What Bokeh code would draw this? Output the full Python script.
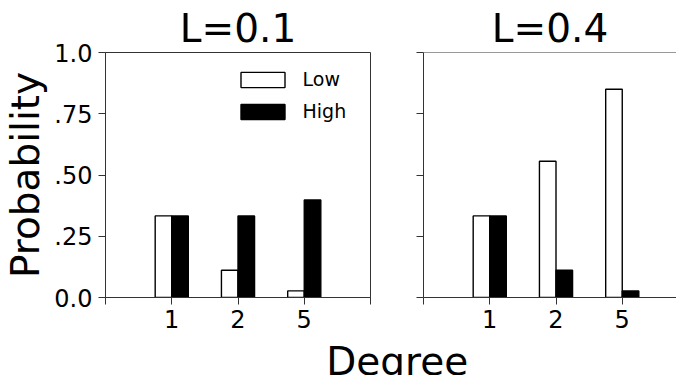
import numpy as np
from bokeh.plotting import figure
from bokeh.models import Range1d, FixedTicker, Legend, LegendItem, Label, Span
from bokeh.layouts import row, column
from bokeh.embed import file_html
from bokeh.resources import INLINE

# ---- data ----
degrees = ["1", "2", "5"]
low_l01 = [0.333, 0.111, 0.027]
high_l01 = [0.333, 0.333, 0.398]
low_l04 = [0.333, 0.556, 0.850]
high_l04 = [0.333, 0.111, 0.027]
y_ticks = [0.0, 0.25, 0.5, 0.75, 1.0]
y_tick_labels = ["0.0", ".25", ".50", ".75", "1.0"]
panel_titles = ["L=0.1", "L=0.4"]
series_names = ["Low", "High"]
x_title = "Degree"
y_title = "Probability"

FONT = "DejaVu Sans"
AXIS_COLOR = "#333333"
BIG = "39px"
TICK = "24px"
BAR_W = 0.25

idx = np.arange(1, len(degrees) + 1)
x_ticks = list(range(0, len(degrees) + 2))
x_overrides = {t: "" for t in x_ticks}
for i, d in zip(idx, degrees):
    x_overrides[int(i)] = d

TOP, FRAME_H, H1 = 52, 245, 338
P1_W, P1_LEFT, P1_RIGHT = 396, 105, 26
P2_W, P2_LEFT, P2_RIGHT = 280, 27, 0
PX_PER_UNIT = (P1_W - P1_LEFT - P1_RIGHT) / (len(degrees) + 1)


def make_panel(width, bl, br, x_end, low, high, title, show_ylabels, outline):
    p = figure(width=width, height=H1, x_range=Range1d(0, x_end), y_range=Range1d(0, 1.0),
               toolbar_location=None, output_backend="svg", title=title,
               min_border_left=bl, min_border_right=br, min_border_top=TOP,
               min_border_bottom=H1 - TOP - FRAME_H)
    p.title.align = "center"
    p.title.text_font = FONT
    p.title.text_font_size = BIG
    p.title.text_font_style = "normal"
    p.title.text_color = "black"
    p.title.standoff = 3
    p.grid.visible = False
    p.background_fill_color = "white"
    p.border_fill_color = "white"
    p.outline_line_color = AXIS_COLOR if outline else None
    p.outline_line_width = 1
    for ax in (p.xaxis[0], p.yaxis[0]):
        ax.axis_line_color = AXIS_COLOR
        ax.axis_line_width = 1
        ax.major_tick_line_color = AXIS_COLOR
        ax.major_tick_line_width = 1
        ax.major_tick_out = 7
        ax.major_tick_in = 0
        ax.minor_tick_line_color = None
        ax.major_label_text_font = FONT
        ax.major_label_text_font_size = TICK
        ax.major_label_text_color = "black"
    p.xaxis.ticker = FixedTicker(ticks=x_ticks)
    p.xaxis.major_label_overrides = x_overrides
    p.xaxis.major_label_standoff = 5
    p.yaxis.ticker = FixedTicker(ticks=y_ticks)
    if show_ylabels:
        p.yaxis.major_label_overrides = {t: s for t, s in zip(y_ticks, y_tick_labels)}
        p.yaxis.axis_label = y_title
        p.yaxis.axis_label_text_font = FONT
        p.yaxis.axis_label_text_font_size = BIG
        p.yaxis.axis_label_text_font_style = "normal"
        p.yaxis.axis_label_text_color = "black"
        p.yaxis.axis_label_standoff = 3
    else:
        p.yaxis.major_label_overrides = {t: "" for t in y_ticks}
    p.yaxis.major_label_standoff = 6

    r_low = p.vbar(x=idx - BAR_W / 2, width=BAR_W, top=low, bottom=0,
                   fill_color="white", line_color="black", line_width=1.4)
    r_high = p.vbar(x=idx + BAR_W / 2, width=BAR_W, top=high, bottom=0,
                    fill_color="black", line_color="black", line_width=1.4)
    if not outline:
        p.add_layout(Span(location=1.0, dimension="width", line_color=AXIS_COLOR, line_width=1))
    return p, r_low, r_high


p1, l1, h1 = make_panel(P1_W, P1_LEFT, P1_RIGHT, len(degrees) + 1, low_l01, high_l01,
                        panel_titles[0], True, True)
x_end2 = (P2_W - P2_LEFT - P2_RIGHT) / PX_PER_UNIT
p2, l2, h2 = make_panel(P2_W, P2_LEFT, P2_RIGHT, x_end2, low_l04, high_l04,
                        panel_titles[1], False, False)

legend = Legend(items=[LegendItem(label=series_names[0], renderers=[l1]),
                       LegendItem(label=series_names[1], renderers=[h1])],
                location=(129.5, 175), border_line_color=None, background_fill_alpha=0,
                padding=0, margin=0, spacing=10, glyph_width=55, glyph_height=19,
                label_standoff=13, label_text_font=FONT, label_text_font_size="19px",
                label_text_color="black")
p1.add_layout(legend)

H3 = 375 - H1
p3 = figure(width=P1_W + P2_W, height=H3, x_range=Range1d(0, 1), y_range=Range1d(0, 1),
            x_axis_type=None, y_axis_type=None, toolbar_location=None, output_backend="svg",
            min_border=0, title=None)
p3.grid.visible = False
p3.outline_line_color = None
p3.add_layout(Label(x=396.7, y=H3, x_units="screen", y_units="screen", text=x_title,
                    text_align="center", text_baseline="top",
                    text_font=FONT, text_font_size=BIG, text_color="black"))

layout = column(row(p1, p2), p3)
open("out.html", "w").write(file_html(layout, INLINE))
